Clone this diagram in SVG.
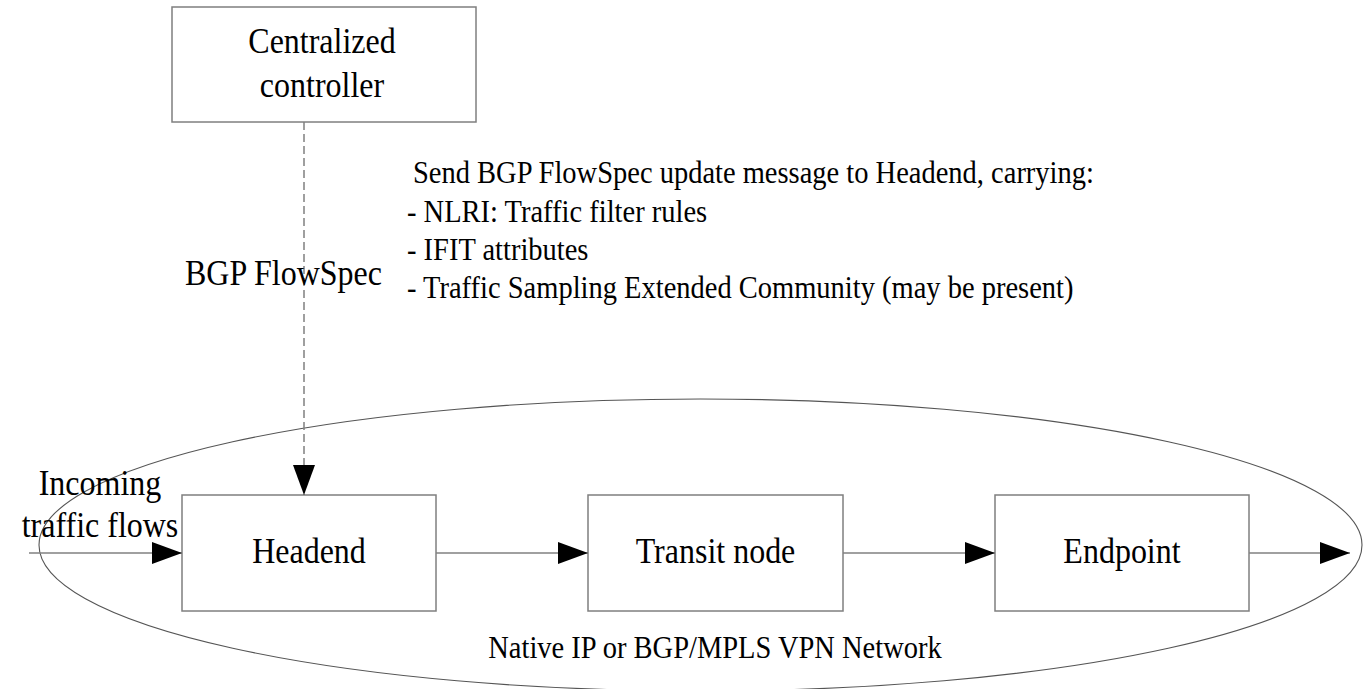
<svg xmlns="http://www.w3.org/2000/svg" width="1365" height="689" viewBox="0 0 1365 689">
<style>
.box{fill:#fff;stroke:#7f7f7f;stroke-width:1.5}
.conn{fill:none;stroke:#808080;stroke-width:1.5}
.dash{stroke-dasharray:8 4}
.net{fill:none;stroke:#555;stroke-width:1.1}
text{font-family:"Liberation Serif","Times New Roman",serif;fill:#000}
.lg{font-size:32px}
.md{font-size:28.5px}
.c{text-anchor:middle}
</style>
<defs>
<marker id="arr" markerUnits="userSpaceOnUse" markerWidth="30" markerHeight="22" refX="30" refY="11" orient="auto">
<path d="M0,0 L30,11 L0,22 z" fill="#000"/>
</marker>
</defs>
<g id="network">
<ellipse class="net" cx="700.5" cy="545" rx="661.5" ry="146"/>
<text class="md c" transform="translate(715 658) scale(1 1.14)">Native IP or BGP/MPLS VPN Network</text>
</g>
<g id="controller">
<rect class="box" x="172" y="7" width="304" height="115"/>
<text class="lg c" transform="translate(322 53) scale(1 1.14)">Centralized</text>
<text class="lg c" transform="translate(322 97) scale(1 1.14)">controller</text>
</g>
<g id="headend">
<rect class="box" x="182" y="495" width="254" height="116"/>
<text class="lg c" transform="translate(309 563) scale(1 1.14)">Headend</text>
</g>
<g id="transit">
<rect class="box" x="588" y="495" width="255" height="116"/>
<text class="lg c" transform="translate(715.5 563) scale(1 1.14)">Transit node</text>
</g>
<g id="endpoint">
<rect class="box" x="995" y="495" width="254" height="116"/>
<text class="lg c" transform="translate(1122 563) scale(1 1.14)">Endpoint</text>
</g>
<g id="connectors">
<path class="conn dash" d="M304,122 V495" marker-end="url(#arr)"/>
<path class="conn" d="M29,553 H182" marker-end="url(#arr)"/>
<path class="conn" d="M436,553 H588" marker-end="url(#arr)"/>
<path class="conn" d="M843,553 H995" marker-end="url(#arr)"/>
<path class="conn" d="M1249,553 H1350" marker-end="url(#arr)"/>
</g>
<g id="labels">
<text class="lg" transform="translate(185 285) scale(1 1.14)">BGP FlowSpec</text>
<text class="lg c" transform="translate(100 495) scale(1 1.14)">Incoming</text>
<text class="lg c" transform="translate(100 537) scale(1 1.14)">traffic flows</text>
<text class="md" transform="translate(413 183) scale(1 1.14)">Send BGP FlowSpec update message to Headend, carrying:</text>
<text class="md" transform="translate(407 222) scale(1 1.14)">- NLRI: Traffic filter rules</text>
<text class="md" transform="translate(407 260) scale(1 1.14)">- IFIT attributes</text>
<text class="md" transform="translate(407 298) scale(1 1.14)">- Traffic Sampling Extended Community (may be present)</text>
</g>
</svg>
